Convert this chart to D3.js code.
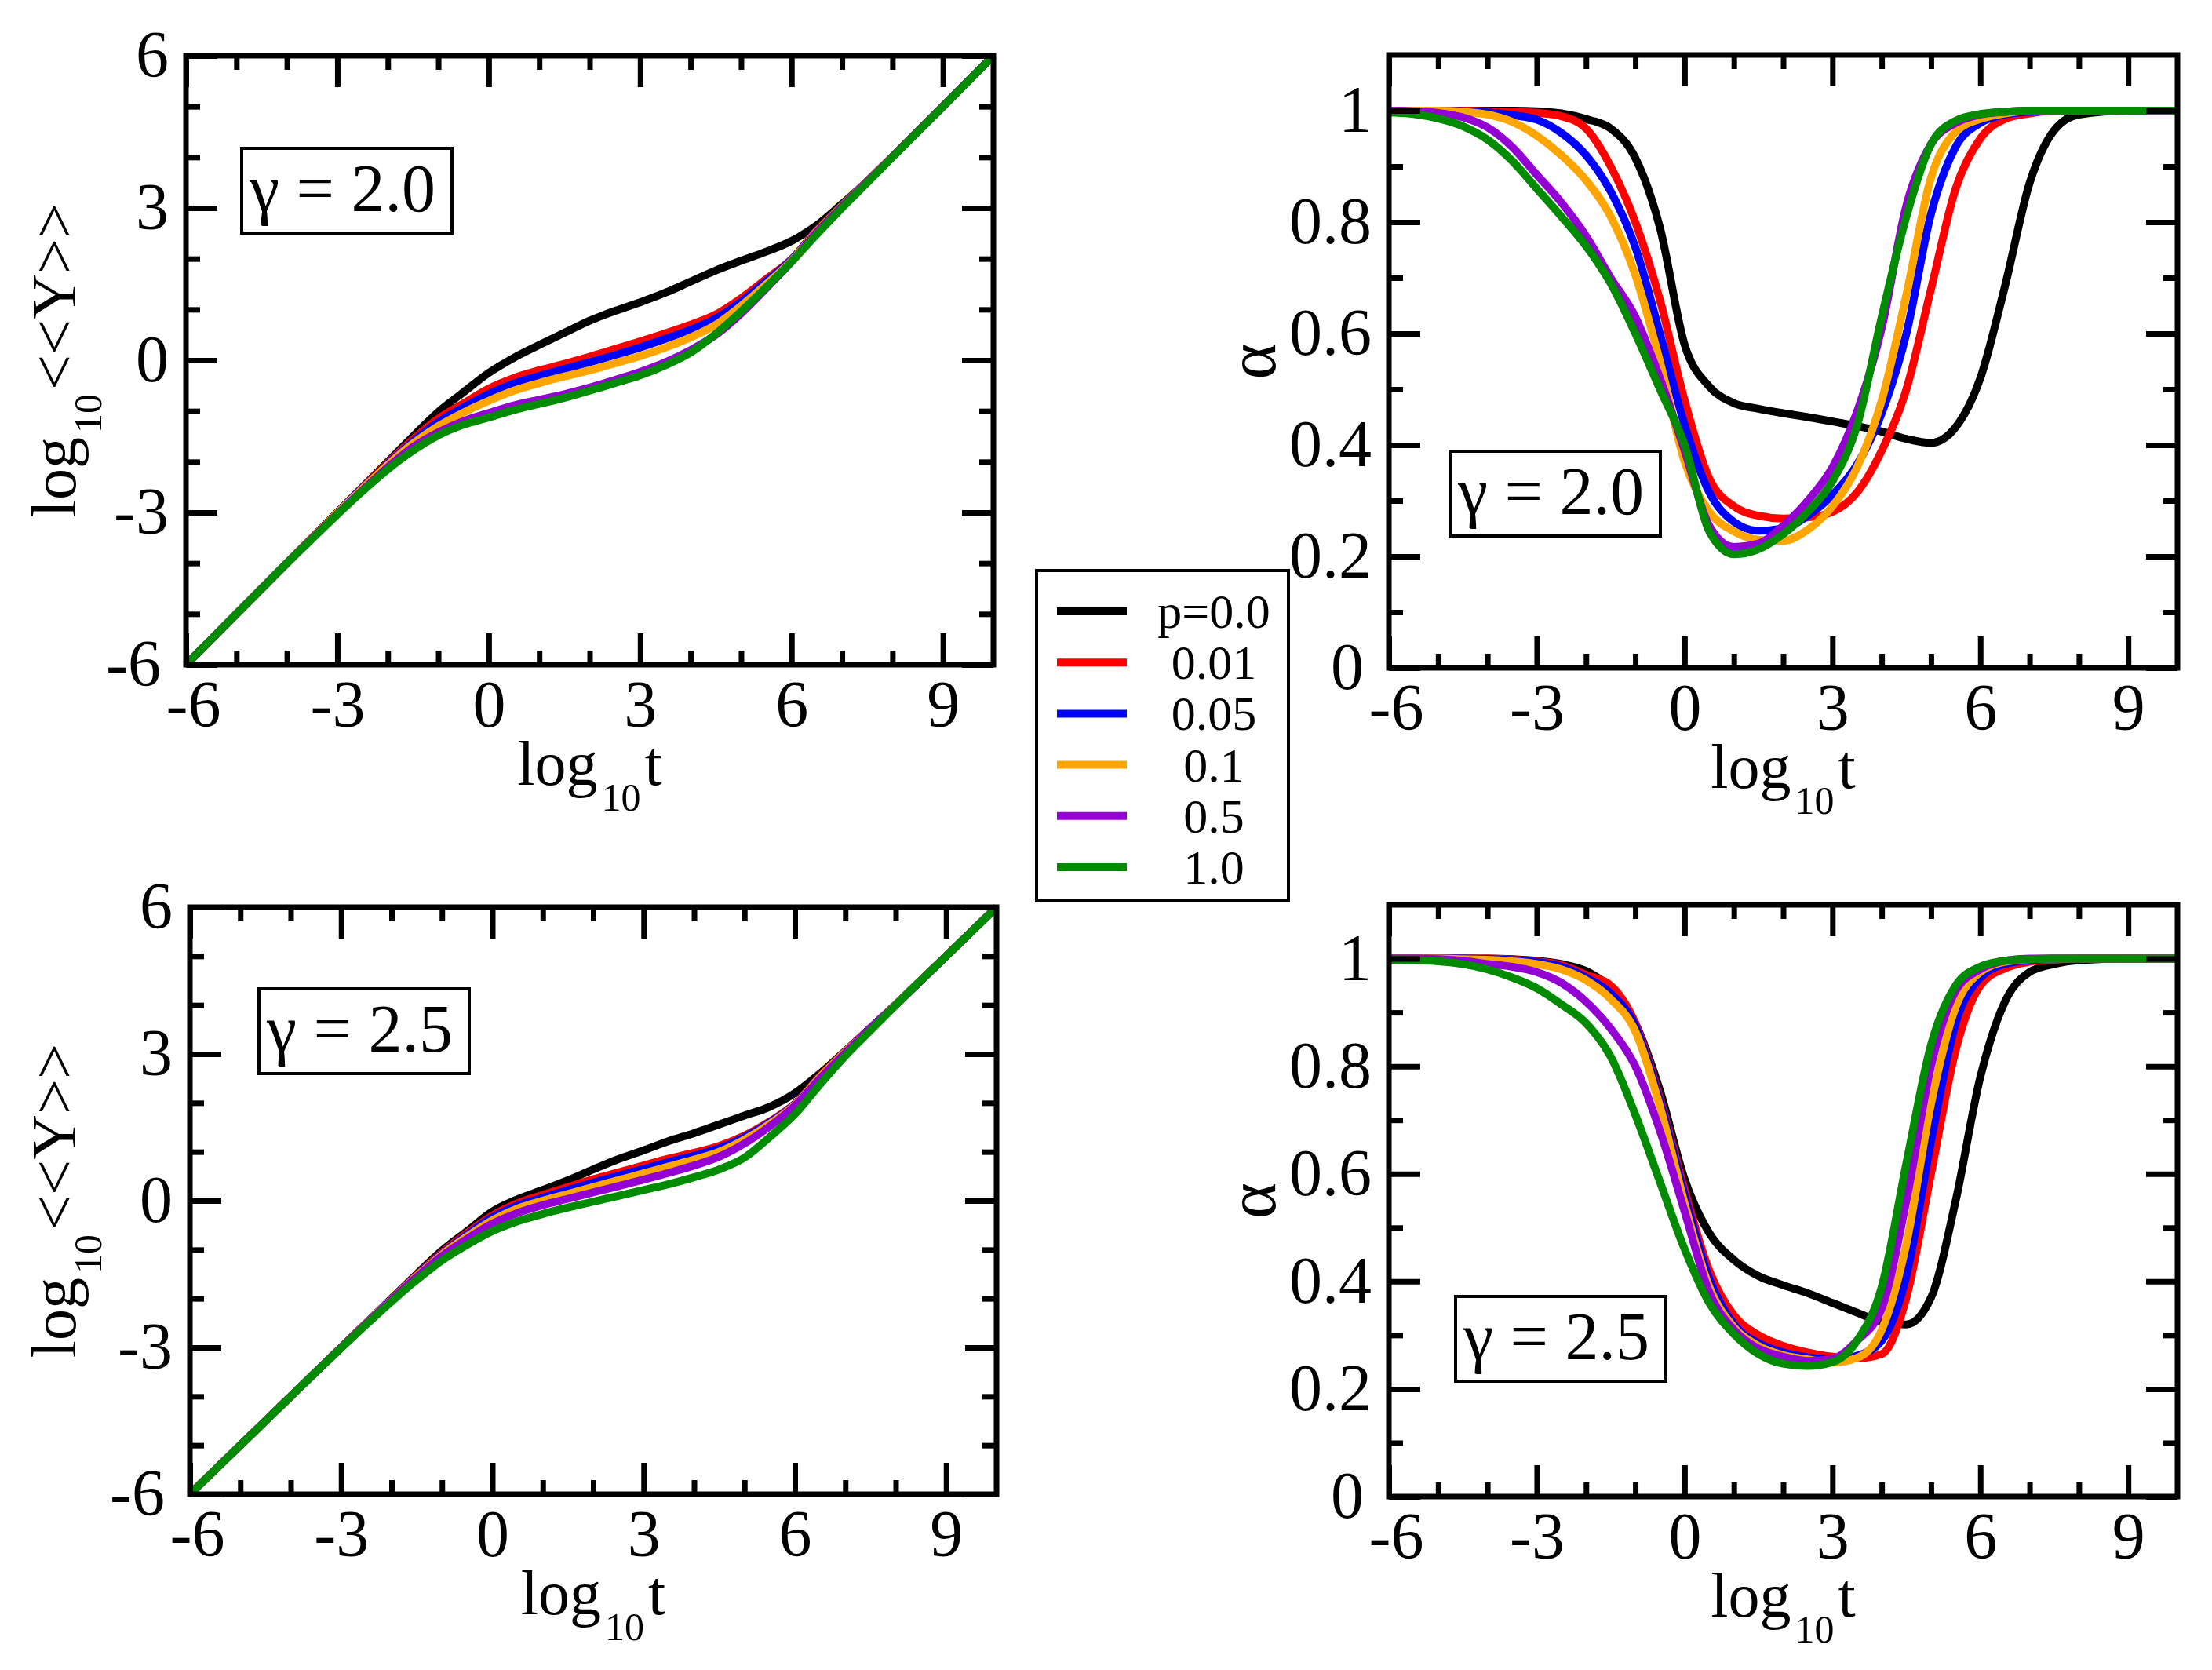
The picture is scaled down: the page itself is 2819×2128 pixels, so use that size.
<!DOCTYPE html>
<html>
<head>
<meta charset="utf-8">
<script src="https://cdn.jsdelivr.net/npm/d3@7"></script>
<style>
body { margin: 0; background: #fff; }
</style>
</head>
<body>
<script>
// shared abscissa: log10 t
const logT = [-6,-5.5,-5,-4.5,-4,-3.5,-3,-2.5,-2,-1.5,-1,-0.5,0,0.5,1,1.5,2,2.5,3,3.5,4,4.5,5,5.5,6,6.5,7,7.5,8,9,10];

const pLabels = ["p=0.0", "0.01", "0.05", "0.1", "0.5", "1.0"];
const colors = ["#000000", "#ff0000", "#0000ff", "#ffa500", "#9400d3", "#008b00"];

const xMajor = [-6,-3,0,3,6,9];
const xMinor = [-5,-4,-2,-1,1,2,4,5,7,8];
const yMajorLog = [-6,-3,0,3,6];
const yMinorLog = [-5,-4,-2,-1,1,2,4,5];
const yMajorAlpha = [0,0.2,0.4,0.6,0.8,1];
const yMinorAlpha = [0.1,0.3,0.5,0.7,0.9];

// log10 <<Y>>, gamma = 2.0
const logY20_p000 = [-6,-5.5,-5,-4.5,-4,-3.5,-3,-2.5,-2,-1.5,-1.02,-0.63,-0.25,0.05,0.3,0.54,0.78,0.97,1.14,1.33,1.55,1.77,1.96,2.14,2.35,2.66,3.08,3.52,4.01,5,6];
const logY20_p001 = [-6,-5.5,-5,-4.5,-4,-3.5,-3,-2.51,-2.02,-1.56,-1.15,-0.85,-0.56,-0.35,-0.2,-0.07,0.07,0.22,0.37,0.53,0.7,0.9,1.22,1.6,1.99,2.56,3.05,3.53,4.01,5,6];
const logY20_p005 = [-6,-5.5,-5,-4.5,-4,-3.5,-3,-2.52,-2.04,-1.6,-1.22,-0.93,-0.67,-0.46,-0.31,-0.17,-0.04,0.1,0.25,0.42,0.6,0.82,1.15,1.56,1.98,2.55,3.05,3.53,4.01,5,6];
const logY20_p010 = [-6,-5.5,-5,-4.5,-4,-3.5,-3.01,-2.53,-2.06,-1.64,-1.3,-1.03,-0.8,-0.6,-0.45,-0.32,-0.2,-0.06,0.08,0.25,0.45,0.7,1.07,1.5,1.96,2.54,3.04,3.53,4.01,5,6];
const logY20_p050 = [-6,-5.5,-5,-4.5,-4,-3.51,-3.03,-2.56,-2.11,-1.71,-1.42,-1.2,-1.04,-0.89,-0.78,-0.67,-0.54,-0.39,-0.23,-0.04,0.2,0.5,0.92,1.42,1.94,2.52,3.03,3.52,4.01,5,6];
const logY20_p100 = [-6,-5.5,-5,-4.5,-4,-3.52,-3.04,-2.58,-2.15,-1.78,-1.48,-1.27,-1.13,-0.98,-0.86,-0.74,-0.6,-0.45,-0.3,-0.1,0.15,0.52,0.96,1.44,1.94,2.48,3,3.5,4,5,6];

// alpha, gamma = 2.0
const alpha20_p000 = [1,1,1,1,1,1,0.999,0.995,0.985,0.968,0.915,0.79,0.58,0.505,0.475,0.465,0.457,0.45,0.442,0.434,0.424,0.411,0.404,0.432,0.52,0.685,0.87,0.965,0.993,1,1];
const alpha20_p001 = [1,1,1,1,0.999,0.998,0.996,0.99,0.968,0.9,0.8,0.66,0.48,0.34,0.29,0.273,0.268,0.27,0.28,0.315,0.39,0.5,0.68,0.86,0.95,0.985,0.995,1,1,1,1];
const alpha20_p005 = [1,1,1,0.999,0.997,0.992,0.984,0.96,0.92,0.855,0.755,0.6,0.436,0.315,0.262,0.246,0.25,0.273,0.31,0.365,0.457,0.6,0.815,0.935,0.978,0.993,0.998,1,1,1,1];
const alpha20_p010 = [1,1,1,0.998,0.993,0.98,0.955,0.92,0.875,0.81,0.705,0.55,0.37,0.28,0.245,0.23,0.228,0.248,0.29,0.36,0.48,0.67,0.88,0.962,0.985,0.995,1,1,1,1,1];
const alpha20_p050 = [1,0.999,0.996,0.988,0.97,0.935,0.885,0.835,0.775,0.7,0.63,0.52,0.39,0.255,0.217,0.223,0.255,0.3,0.36,0.46,0.61,0.83,0.94,0.978,0.993,0.998,1,1,1,1,1];
const alpha20_p100 = [0.997,0.994,0.986,0.972,0.948,0.91,0.86,0.81,0.757,0.69,0.6,0.5,0.4,0.245,0.204,0.213,0.24,0.28,0.335,0.435,0.63,0.81,0.94,0.982,0.994,0.998,1,1,1,1,1];

// log10 <<Y>>, gamma = 2.5
const logY25_p000 = [-6,-5.5,-5,-4.5,-4,-3.5,-3,-2.5,-2,-1.5,-1.02,-0.62,-0.22,0.03,0.22,0.42,0.64,0.85,1.03,1.22,1.38,1.56,1.74,1.92,2.2,2.6,3.06,3.53,4.01,5,6];
const logY25_p001 = [-6,-5.5,-5,-4.5,-4,-3.5,-3,-2.5,-2.01,-1.52,-1.06,-0.66,-0.3,-0.05,0.12,0.28,0.44,0.58,0.72,0.86,0.98,1.12,1.33,1.62,1.98,2.55,3.05,3.53,4.01,5,6];
const logY25_p005 = [-6,-5.5,-5,-4.5,-4,-3.5,-3,-2.5,-2.01,-1.53,-1.08,-0.69,-0.34,-0.1,0.06,0.22,0.37,0.51,0.65,0.79,0.92,1.07,1.3,1.6,1.97,2.54,3.04,3.53,4.01,5,6];
const logY25_p010 = [-6,-5.5,-5,-4.5,-4,-3.5,-3,-2.5,-2.02,-1.54,-1.1,-0.73,-0.4,-0.16,0,0.14,0.28,0.42,0.56,0.7,0.84,1,1.25,1.57,1.96,2.53,3.04,3.52,4.01,5,6];
const logY25_p050 = [-6,-5.5,-5,-4.5,-4,-3.5,-3,-2.51,-2.03,-1.56,-1.13,-0.78,-0.47,-0.25,-0.09,0.04,0.17,0.3,0.43,0.57,0.72,0.9,1.17,1.52,1.94,2.5,3.02,3.52,4,5,6];
const logY25_p100 = [-6,-5.5,-5,-4.5,-4,-3.5,-3.01,-2.53,-2.06,-1.62,-1.22,-0.9,-0.62,-0.42,-0.27,-0.14,-0.02,0.1,0.22,0.34,0.48,0.64,0.88,1.3,1.77,2.38,2.96,3.48,4,5,6];

// alpha, gamma = 2.5
const alpha25_p000 = [1,1,1,1,1,0.999,0.996,0.99,0.977,0.945,0.88,0.755,0.59,0.49,0.44,0.41,0.393,0.378,0.36,0.342,0.325,0.32,0.37,0.55,0.78,0.92,0.975,0.99,0.997,1,1];
const alpha25_p001 = [1,1,1,1,1,0.998,0.995,0.988,0.97,0.95,0.88,0.74,0.57,0.42,0.337,0.3,0.28,0.268,0.26,0.257,0.265,0.37,0.6,0.83,0.95,0.982,0.994,0.998,1,1,1];
const alpha25_p005 = [1,1,1,1,0.999,0.997,0.994,0.985,0.965,0.935,0.875,0.735,0.56,0.405,0.32,0.285,0.268,0.259,0.255,0.262,0.29,0.41,0.66,0.88,0.965,0.99,0.997,1,1,1,1];
const alpha25_p010 = [1,1,1,0.999,0.998,0.995,0.99,0.98,0.96,0.925,0.865,0.725,0.545,0.39,0.315,0.28,0.263,0.255,0.249,0.258,0.31,0.47,0.73,0.91,0.975,0.994,0.999,1,1,1,1];
const alpha25_p050 = [1,1,0.999,0.996,0.99,0.985,0.975,0.955,0.92,0.87,0.8,0.68,0.53,0.38,0.31,0.275,0.26,0.252,0.256,0.29,0.35,0.55,0.8,0.94,0.98,0.996,1,1,1,1,1];
const alpha25_p100 = [0.998,0.997,0.995,0.99,0.98,0.965,0.945,0.915,0.88,0.818,0.71,0.585,0.46,0.36,0.302,0.265,0.247,0.243,0.25,0.29,0.39,0.62,0.84,0.95,0.985,0.996,0.999,1,1,1,1];

const FONT = "'Liberation Serif', 'Times New Roman', serif";
const W = 2819, H = 2128;

const svg = d3.select("body").append("svg").attr("width", W).attr("height", H);
svg.append("rect").attr("width", W).attr("height", H).attr("fill", "#fff");

// panel frames (left, right, top, bottom) and the gamma box corner
const panels = [
  { box: [237, 1266, 71, 847], yDomain: [-6, 6], yMajor: yMajorLog, yMinor: yMinorLog, kind: "Y",
    series: [logY20_p000, logY20_p001, logY20_p005, logY20_p010, logY20_p050, logY20_p100], gamma: "2.0", gbox: [308, 189] },
  { box: [1770, 2775, 70, 851], yDomain: [0, 1.1], yMajor: yMajorAlpha, yMinor: yMinorAlpha, kind: "alpha",
    series: [alpha20_p000, alpha20_p001, alpha20_p005, alpha20_p010, alpha20_p050, alpha20_p100], gamma: "2.0", gbox: [1848, 575] },
  { box: [242, 1270, 1156, 1904], yDomain: [-6, 6], yMajor: yMajorLog, yMinor: yMinorLog, kind: "Y",
    series: [logY25_p000, logY25_p001, logY25_p005, logY25_p010, logY25_p050, logY25_p100], gamma: "2.5", gbox: [330, 1260] },
  { box: [1770, 2775, 1153, 1907], yDomain: [0, 1.1], yMajor: yMajorAlpha, yMinor: yMinorAlpha, kind: "alpha",
    series: [alpha25_p000, alpha25_p001, alpha25_p005, alpha25_p010, alpha25_p050, alpha25_p100], gamma: "2.5", gbox: [1855, 1652] }
];

const fmt = d => String(d);

// "log" + subscript "10" + tail as separate texts; advances from Times-like metrics (em units)
const adv = { l: 0.278, o: 0.5, g: 0.5, t: 0.278, "1": 0.5, "0": 0.5, "<": 0.564, ">": 0.564, Y: 0.722 };
const textWidth = (s, size) => size * d3.sum(Array.from(s), c => adv[c] || 0.5);

function logTitle(g, tail) {
  const parts = [
    { s: "log", size: 80, dy: 0 },
    { s: "10", size: 50, dy: 33 },
    { s: tail, size: 80, dy: 0 }
  ];
  const gap = 5;
  const widths = parts.map(p => textWidth(p.s, p.size));
  let cx = -(d3.sum(widths) + gap * (parts.length - 1)) / 2;
  parts.forEach((p, i) => {
    g.append("text")
      .attr("x", cx)
      .attr("y", p.dy)
      .attr("font-family", FONT)
      .attr("font-size", p.size)
      .attr("fill", "#000")
      .text(p.s);
    cx += widths[i] + gap;
  });
}

function drawPanel(p) {
  const [l, r, t, b] = p.box;
  const x = d3.scaleLinear().domain([-6, 10]).range([l, r]);
  const y = d3.scaleLinear().domain(p.yDomain).range([b, t]);
  const g = svg.append("g");

  const line = d3.line()
    .x((d, i) => x(logT[i]))
    .y(d => y(d))
    .curve(d3.curveMonotoneX);

  p.series.forEach((s, k) => {
    g.append("path")
      .attr("d", line(s))
      .attr("fill", "none")
      .attr("stroke", colors[k])
      .attr("stroke-width", 10)
      .attr("stroke-linejoin", "round");
  });

  // ticks on all four sides, pointing inward
  const xAxisG = g.append("g").attr("transform", `translate(0,${b})`)
    .call(d3.axisBottom(x).tickValues(xMajor).tickSize(-40).tickSizeOuter(0).tickPadding(19).tickFormat(fmt));
  g.append("g").attr("transform", `translate(0,${b})`)
    .call(d3.axisBottom(x).tickValues(xMinor).tickSize(-18).tickSizeOuter(0).tickFormat(""));
  g.append("g").attr("transform", `translate(0,${t})`)
    .call(d3.axisTop(x).tickValues(xMajor).tickSize(-40).tickSizeOuter(0).tickFormat(""));
  g.append("g").attr("transform", `translate(0,${t})`)
    .call(d3.axisTop(x).tickValues(xMinor).tickSize(-18).tickSizeOuter(0).tickFormat(""));
  const yAxisG = g.append("g").attr("transform", `translate(${l},0)`)
    .call(d3.axisLeft(y).tickValues(p.yMajor).tickSize(-40).tickSizeOuter(0).tickPadding(22).tickFormat(fmt));
  g.append("g").attr("transform", `translate(${l},0)`)
    .call(d3.axisLeft(y).tickValues(p.yMinor).tickSize(-18).tickSizeOuter(0).tickFormat(""));
  g.append("g").attr("transform", `translate(${r},0)`)
    .call(d3.axisRight(y).tickValues(p.yMajor).tickSize(-40).tickSizeOuter(0).tickFormat(""));
  g.append("g").attr("transform", `translate(${r},0)`)
    .call(d3.axisRight(y).tickValues(p.yMinor).tickSize(-18).tickSizeOuter(0).tickFormat(""));

  g.selectAll(".domain").remove();
  g.selectAll(".tick line").attr("stroke", "#000").attr("stroke-width", 7);
  g.selectAll(".tick text")
    .attr("font-family", FONT)
    .attr("font-size", 84)
    .attr("fill", "#000");

  // keep the two corner labels from colliding
  xAxisG.selectAll(".tick text").filter(d => d === xMajor[0]).attr("dx", 9);
  yAxisG.selectAll(".tick text").filter(d => d === p.yMajor[0]).attr("dx", -10);

  g.append("rect")
    .attr("x", l).attr("y", t)
    .attr("width", r - l).attr("height", b - t)
    .attr("fill", "none")
    .attr("stroke", "#000")
    .attr("stroke-width", 7);

  // x title: log10 t
  logTitle(g.append("g").attr("transform", `translate(${(l + r) / 2},${b + 153})`), "t");

  // y title
  const cy = (t + b) / 2;
  if (p.kind === "Y") {
    logTitle(g.append("g").attr("transform", `translate(96,${cy}) rotate(-90)`), "<<Y>>");
  } else {
    g.append("text")
      .attr("transform", `translate(1625,${cy}) rotate(-90)`)
      .attr("text-anchor", "middle")
      .attr("font-family", FONT)
      .attr("font-size", 88)
      .text("α");
  }

  // gamma label box
  const [gx, gy] = p.gbox;
  const gw = 268, gh = 108;
  g.append("rect")
    .attr("x", gx).attr("y", gy)
    .attr("width", gw).attr("height", gh)
    .attr("fill", "#fff")
    .attr("stroke", "#000")
    .attr("stroke-width", 4);
  g.append("text")
    .attr("x", gx + 10)
    .attr("y", gy + gh - 28)
    .attr("font-family", FONT)
    .attr("font-size", 86)
    .attr("fill", "#000")
    .attr("xml:space", "preserve")
    .text("γ = " + p.gamma);
}

panels.forEach(drawPanel);

// legend
const legend = svg.append("g");
legend.append("rect")
  .attr("x", 1321).attr("y", 727)
  .attr("width", 321).attr("height", 421)
  .attr("fill", "#fff")
  .attr("stroke", "#000")
  .attr("stroke-width", 4);

const rowY = d3.scaleLinear().domain([0, 5]).range([779, 1105]);
pLabels.forEach((lab, k) => {
  legend.append("line")
    .attr("x1", 1347).attr("x2", 1436)
    .attr("y1", rowY(k)).attr("y2", rowY(k))
    .attr("stroke", colors[k])
    .attr("stroke-width", 10);
  legend.append("text")
    .attr("x", 1547)
    .attr("y", rowY(k) + 21)
    .attr("text-anchor", "middle")
    .attr("font-family", FONT)
    .attr("font-size", 62)
    .attr("fill", "#000")
    .text(lab);
});
</script>
</body>
</html>
